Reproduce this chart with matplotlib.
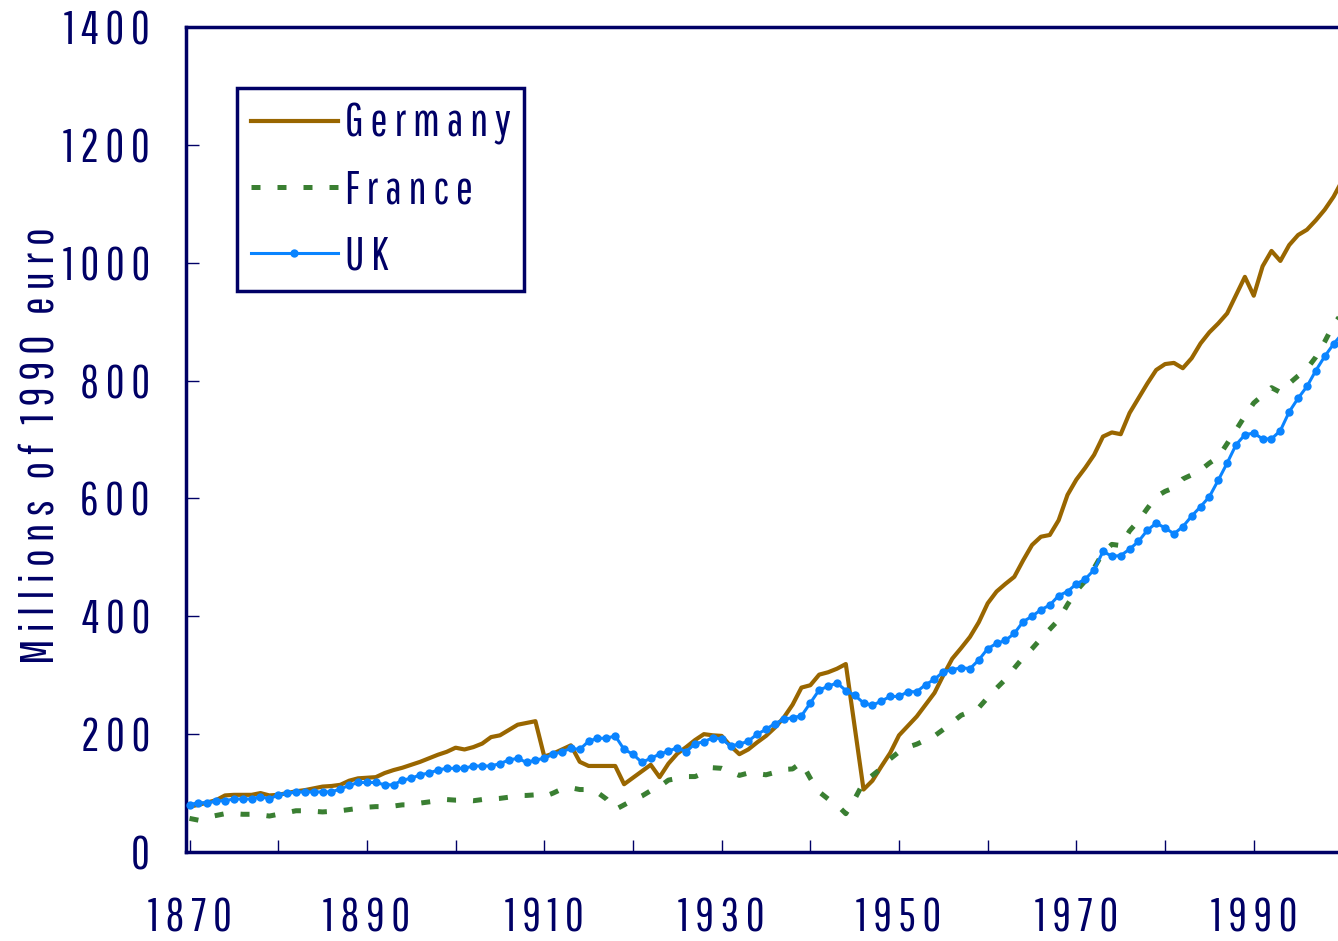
import numpy as np
import matplotlib
matplotlib.use("Agg")
import matplotlib.pyplot as plt

plt.rcParams['font.family'] = ['Pathway Gothic One', 'Sofia Sans Extra Condensed',
                               'Liberation Sans', 'DejaVu Sans']

NAVY = '#000066'

years = np.arange(1870, 2001)

germany = [
    77, 80, 84, 88, 96, 97, 97, 97, 100, 96,
    97, 100, 103, 105, 108, 111, 112, 114, 121, 125,
    126, 127, 134, 139, 143, 148, 153, 159, 165, 170,
    177, 174, 178, 184, 195, 198, 207, 216, 219, 222,
    162, 167, 174, 181, 153, 146, 146, 146, 146, 115,
    126, 137, 148, 127, 150, 167, 178, 190, 200, 198,
    197, 180, 166, 174, 186, 197, 211, 228, 250, 279,
    283, 301, 305, 311, 319, 212, 106, 121, 145, 168,
    198, 214, 230, 250, 270, 300, 328, 346, 365, 390,
    422, 442, 455, 467, 495, 521, 535, 538, 563, 606,
    632, 652, 674, 705, 712, 709, 745, 770, 795, 818,
    828, 830, 821, 838, 863, 882, 897, 914, 945, 976,
    944, 994, 1020, 1003, 1030, 1047, 1056, 1072, 1090, 1112,
    1140,
]

france = [
    57, 54, 59, 62, 65, 65, 64, 64, 63, 61,
    64, 67, 70, 70, 69, 68, 69, 70, 72, 74,
    76, 77, 77, 78, 80, 80, 83, 85, 87, 89,
    88, 88, 87, 89, 90, 91, 93, 96, 96, 97,
    94, 100, 107, 109, 106, 106, 101, 90, 72, 80,
    88, 95, 104, 111, 122, 125, 128, 128, 134, 143,
    142, 136, 130, 134, 133, 131, 135, 140, 141, 152,
    125, 102, 90, 80, 65, 90, 118, 130, 142, 158,
    170, 178, 183, 190, 197, 208, 220, 232, 238, 245,
    262, 278, 293, 312, 330, 345, 362, 378, 394, 420,
    443, 460, 482, 508, 522, 520, 545, 562, 583, 603,
    612, 618, 633, 640, 648, 660, 670, 693, 716, 740,
    762, 775, 788, 780, 795, 808, 820, 840, 866, 895,
    915,
]

uk = [
    80, 84, 83, 87, 87, 90, 90, 90, 94, 90,
    97, 100, 102, 102, 102, 102, 102, 107, 113, 118,
    118, 118, 114, 114, 122, 125, 131, 134, 139, 142,
    142, 142, 146, 146, 146, 150, 156, 159, 152, 156,
    159, 166, 170, 176, 174, 188, 193, 193, 197, 174,
    166, 152, 159, 166, 171, 177, 170, 184, 187, 194,
    192, 180, 183, 188, 200, 208, 218, 225, 228, 231,
    253, 275, 281, 287, 274, 266, 253, 249, 256, 264,
    264, 272, 272, 284, 293, 306, 309, 313, 311, 326,
    345, 354, 359, 371, 391, 400, 411, 419, 435, 442,
    455, 463, 479, 510, 502, 503, 514, 527, 546, 558,
    550, 540, 552, 570, 586, 603, 631, 660, 691, 708,
    711, 701, 701, 715, 747, 770, 790, 817, 841, 862,
    880,
]

x_ticks = list(range(1870, 2000, 10))
x_labels = [' '.join(str(t)) if (t - 1870) % 20 == 0 else '' for t in x_ticks]
y_ticks = list(range(0, 1401, 200))
y_labels = [' '.join(str(t)) for t in y_ticks]

fig = plt.figure(figsize=(13.38, 9.41), dpi=100)
ax = fig.add_axes([186 / 1338, 1 - 852 / 941, 1152 / 1338, 825 / 941])

ax.plot(years, germany, color='#996600', lw=3.0, label=' '.join('Germany'), zorder=3)
ax.plot(years, france, color='#3a7f32', lw=3.6, dashes=(1.8, 3.4),
        label=' '.join('France'), zorder=3)
ax.plot(years, uk, color='#0a84ff', lw=2.2, marker='o', ms=6, mew=0,
        label=' '.join('UK'), zorder=4)

ax.set_xlim(1869.6, 1999.5)
ax.set_ylim(0, 1400)
ax.set_xticks(x_ticks)
ax.set_xticklabels(x_labels)
ax.set_yticks(y_ticks)
ax.set_yticklabels(y_labels)

ax.tick_params(axis='both', direction='in', length=9, width=1, color=NAVY,
               labelcolor=NAVY, labelsize=33)
ax.tick_params(axis='x', pad=32)
ax.tick_params(axis='y', pad=26)

for side in ['left', 'bottom', 'top']:
    ax.spines[side].set_color(NAVY)
    ax.spines[side].set_linewidth(2.5)
ax.spines['right'].set_visible(False)

fig.text(41 / 1338, 1 - 446 / 941, 'M i l l i o n s   o f   1 9 9 0   e u r o',
         rotation=90, ha='center', va='center', color=NAVY, fontsize=34)

leg = ax.legend(loc='upper left', bbox_to_anchor=(0.0443, 0.926), borderaxespad=0,
                fontsize=33, handlelength=1.9, handletextpad=0.15, borderpad=0.3,
                labelspacing=0.5, fancybox=False, framealpha=1)
leg.get_frame().set_edgecolor(NAVY)
leg.get_frame().set_linewidth(2.5)
for t in leg.get_texts():
    t.set_color(NAVY)

fig.savefig('out.png', dpi=100)
